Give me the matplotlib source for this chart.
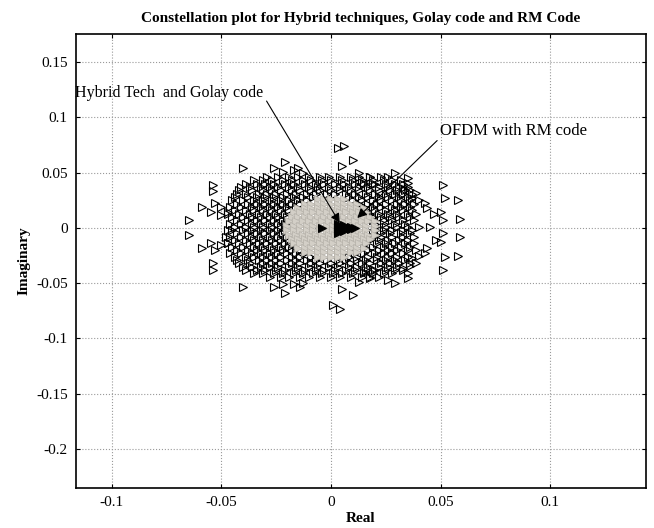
import numpy as np
import matplotlib
matplotlib.use("Agg")
import matplotlib.pyplot as plt
from matplotlib.ticker import FixedLocator, FixedFormatter

plt.rcParams['font.family'] = ['Liberation Serif', 'DejaVu Serif']

# OFDM with RM code: scattered outer symbols (real, imag) in units of 1e-3
rm_outer_re = [3, 6, 10, 5, -21, -40, -26, -22, -17, -13, -15,
               1, 4, 10, 5, -21, -40, -26, -22, -17, -13, -14,
               -54, -54, -59, -55, -53, -50, -47, -65, -65,
               -54, -54, -59, -55, -53, -50, -47,
               13, 18, 15, 19, 29, 26, 35, 35, 33, 36, 39, 37, 40, 43, 44,
               51, 52, 58, 50, 51, 59, 45, 47, 48, 51, 59, 50, 52, 58, 51,
               35, 35, 33, 36, 39, 37, 40, 43, 44, 29, 26, 13, 18, 15, 19,
               -50, -48, -47]
rm_outer_im = [72, 74, 61, 56, 60, 54, 54, 51, 52, 50, 54,
               -70, -73, -61, -55, -59, -53, -53, -51, -51, -50, -53,
               39, 33, 19, 14, 23, 19, 14, 7, -6,
               -32, -38, -18, -14, -20, -15, -14,
               50, 46, 41, 40, 50, 46, 45, 41, 36, 34, 32, 27, 25, 23, 18,
               39, 27, 25, 14, 7, 8, 1, 13, -11, -5, -8, -13, -26, -25, -38,
               -45, -41, -36, -34, -32, -27, -25, -23, -18, -50, -47, -49, -45, -40, -38,
               12, -8, -2]

# dense part of the RM-coded cloud, row by row (imag: [real values]), 1e-3 units
rm_rows = {
    46: [-29, -24, -19, -15, -10, -5, -1, 4, 9, 13, 18, 23],
    43: [-35, -31, -27, -22, -18, -13, -9, -4, 0, 5, 10, 14, 19, 24, 28, 32],
    40: [-39, -34, -30, -26, -21, -17, -12, -7, -3, 2, 6, 11, 15, 20, 25, 29, 33],
    37: [-41, -37, -32, -28, -24, -19, -15, -10, -6, -1, 4, 8, 13, 17, 22, 26, 31, 35],
    34: [-42, -36, -31, -27, -23, -18, -14, -9, -5, 0, 4, 9, 13, 18, 22, 27, 30, 34],
    31: [-43, -39, -33, -29, -25, -20, -16, -11, -7, -2, 2, 7, 11, 16, 20, 25, 29, 33, 37],
    28: [-44, -38, -34, -30, -26, -22, -17, -13, -8, 8, 13, 17, 22, 26, 31, 35],
    25: [-45, -40, -35, -31, -27, -23, -19, -15, -11, 10, 14, 19, 23, 28, 32, 36],
    22: [-43, -38, -34, -30, -26, -22, -18, -14, 13, 17, 21, 25, 30, 34, 38],
    19: [-46, -41, -36, -32, -28, -24, -20, -16, 15, 19, 23, 28, 32, 36],
    16: [-44, -39, -35, -31, -27, -23, -19, 16, 20, 25, 29, 33, 37],
    13: [-47, -42, -37, -33, -29, -25, -21, 18, 22, 26, 30, 35, 39],
    10: [-45, -40, -36, -32, -28, -24, -20, 19, 23, 27, 31, 36],
    7: [-43, -38, -34, -30, -26, -22, 19, 24, 28, 33, 38],
    4: [-46, -41, -36, -32, -28, -24, -21, 20, 24, 29, 34],
    1: [-44, -39, -35, -31, -27, -23, 20, 25, 30, 35, 40],
    -2: [-45, -40, -36, -32, -28, -24, -21, 20, 24, 28, 33, 37],
    -5: [-43, -38, -34, -30, -26, -22, 19, 23, 27, 32, 36],
    -8: [-46, -41, -36, -32, -28, -24, -20, 19, 23, 28, 33, 38],
    -11: [-44, -39, -35, -31, -27, -23, -19, 18, 22, 26, 31, 35],
    -14: [-47, -42, -37, -33, -29, -25, -21, -17, 16, 21, 25, 29, 34, 38],
    -17: [-45, -40, -35, -31, -27, -23, -19, 15, 19, 24, 28, 32, 36],
    -20: [-43, -38, -34, -30, -26, -22, -18, -14, 13, 17, 22, 26, 30, 35, 39],
    -23: [-46, -41, -36, -32, -28, -24, -20, -16, -12, 11, 15, 20, 24, 28, 33],
    -26: [-44, -39, -35, -31, -27, -23, -18, -14, -9, 8, 12, 17, 21, 26, 30, 35],
    -29: [-43, -38, -33, -29, -25, -20, -16, -11, -7, -2, 3, 7, 12, 16, 21, 25, 29, 34],
    -32: [-42, -37, -31, -27, -23, -18, -14, -9, -5, 0, 4, 9, 14, 18, 23, 27, 31, 36],
    -35: [-40, -36, -32, -28, -24, -19, -15, -10, -6, -1, 3, 8, 12, 17, 22, 26, 30],
    -38: [-39, -34, -30, -25, -21, -16, -12, -7, -3, 2, 7, 11, 16, 20, 25, 29, 33],
    -41: [-35, -31, -26, -22, -17, -13, -8, -4, 1, 5, 10, 15, 19, 24, 28],
    -44: [-28, -23, -19, -14, -10, -5, 0, 4, 9, 14, 18, 22],
}

# Hybrid technique with Golay code: compact cluster around the origin (1e-3 units)
hyb_rows = {
    26: [-6, -3, 0, 3, 6],
    22: [-12, -9, -6, -3, 0, 3, 6, 9, 12],
    18: [-15, -12, -9, -6, -3, 0, 3, 6, 9, 12, 15],
    14: [-17, -14, -11, -8, -5, -2, 1, 4, 7, 10, 13, 16],
    10: [-18, -15, -12, -9, -6, -3, 0, 3, 6, 9, 12, 15, 18],
    6: [-19, -16, -13, -10, -7, -4, -1, 2, 5, 8, 11, 14, 17, 20],
    2: [-20, -17, -14, -11, -8, -5, -2, 1, 4, 7, 10, 13, 16, 20],
    -2: [-20, -17, -14, -11, -8, -5, -2, 1, 4, 7, 10, 13, 16, 20],
    -6: [-19, -16, -13, -10, -7, -4, -1, 2, 5, 8, 11, 14, 17, 20],
    -10: [-18, -15, -12, -9, -6, -3, 0, 3, 6, 9, 12, 15, 18],
    -14: [-17, -14, -11, -8, -5, -2, 1, 4, 7, 10, 13, 16],
    -18: [-15, -12, -9, -6, -3, 0, 3, 6, 9, 12, 15],
    -22: [-12, -9, -6, -3, 0, 3, 6, 9, 12],
    -26: [-6, -3, 0, 3, 6],
}
hyb_core_re = [3, 3, 3, 3, 6, 6, 6, 9, 9, 11, -4]
hyb_core_im = [-5, -2, 1, 4, -3, 0, 3, -1, 1, 0, 0]

x_ticks = [-0.1, -0.05, 0, 0.05, 0.1]
x_labels = ['-0.1', '-0.05', '0', '0.05', '0.1']
y_ticks = [0.15, 0.1, 0.05, 0, -0.05, -0.1, -0.15, -0.2]
y_labels = ['0.15', '0.1', '0.05', '0', '-0.05', '-0.1', '-0.15', '-0.2']


def rows_to_xy(rows):
    xs, ys = [], []
    for im, res in rows.items():
        xs.extend(res)
        ys.extend([im] * len(res))
    return np.array(xs) * 1e-3, np.array(ys) * 1e-3


fig = plt.figure(figsize=(6.54, 5.28), dpi=100)
ax = fig.add_axes([0.1162, 0.0758, 0.8716, 0.8598])

rx, ry = rows_to_xy(rm_rows)
rx = np.concatenate([rx, np.array(rm_outer_re) * 1e-3])
ry = np.concatenate([ry, np.array(rm_outer_im) * 1e-3])
ax.plot(rx, ry, linestyle='none', marker='>', markersize=6,
        markerfacecolor='none', markeredgecolor='black', markeredgewidth=0.8, zorder=3)

hx, hy = rows_to_xy(hyb_rows)
ax.plot(hx, hy, linestyle='none', marker='>', markersize=6,
        markerfacecolor='#d3cfc7', markeredgecolor='#b5b1a9', markeredgewidth=0.5, zorder=4)
ax.plot(np.array(hyb_core_re) * 1e-3, np.array(hyb_core_im) * 1e-3, linestyle='none',
        marker='>', markersize=6, markerfacecolor='black', markeredgecolor='black',
        markeredgewidth=0.8, zorder=5)

ax.annotate('Hybrid Tech  and Golay code', xy=(0.004, 0.0045), xytext=(-0.117, 0.122),
            fontsize=11.5, ha='left', va='center', zorder=6,
            arrowprops=dict(arrowstyle='-|>', color='black', lw=0.8,
                            mutation_scale=14, shrinkA=0, shrinkB=0,
                            relpos=(1.02, 0.0)))
ax.annotate('OFDM with RM code', xy=(0.012, 0.009), xytext=(0.0498, 0.0877),
            fontsize=12, ha='left', va='center', zorder=6,
            arrowprops=dict(arrowstyle='-|>', color='black', lw=0.8,
                            mutation_scale=14, shrinkA=0, shrinkB=0,
                            relpos=(-0.02, -0.1)))

ax.set_xlim(-0.1164, 0.1438)
ax.set_ylim(-0.2352, 0.1754)
ax.xaxis.set_major_locator(FixedLocator(x_ticks))
ax.xaxis.set_major_formatter(FixedFormatter(x_labels))
ax.yaxis.set_major_locator(FixedLocator(y_ticks))
ax.yaxis.set_major_formatter(FixedFormatter(y_labels))
ax.tick_params(direction='in', top=True, right=True, length=3, width=0.8,
               labelsize=11, pad=6)
ax.grid(True, linestyle=':', color='#9a9a9a', linewidth=0.8)
ax.set_axisbelow(True)
for sp in ax.spines.values():
    sp.set_linewidth(1.2)

ax.set_title('Constellation plot for Hybrid techniques, Golay code and RM Code',
             fontsize=11, fontweight='bold', pad=9)
ax.set_xlabel('Real', fontsize=11, fontweight='bold', labelpad=2)
ax.set_ylabel('Imaginary', fontsize=11, fontweight='bold', labelpad=4)

fig.savefig('out.png', dpi=100)
